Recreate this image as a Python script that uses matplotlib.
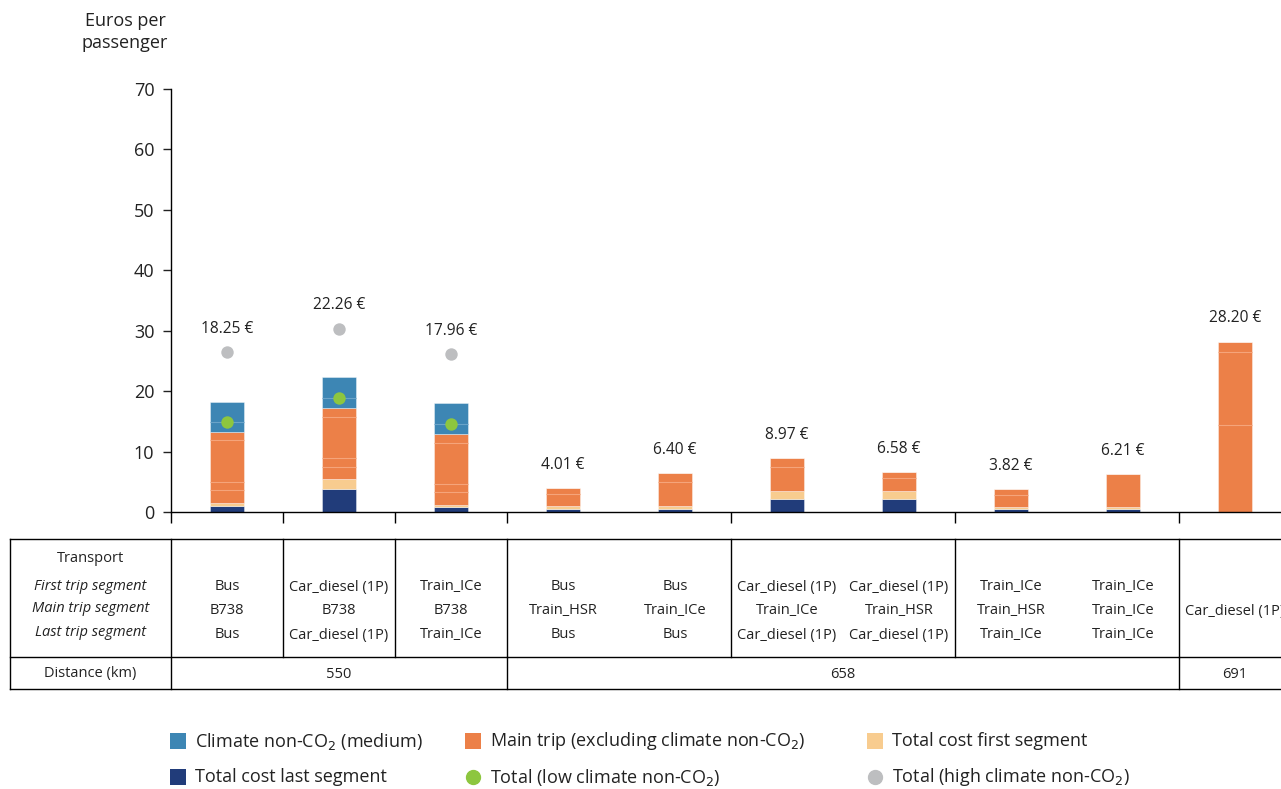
import matplotlib
matplotlib.use("Agg")
import matplotlib.pyplot as plt
import numpy as np
from matplotlib.lines import Line2D
from matplotlib.patches import Rectangle

plt.rcParams['font.family'] = ['Open Sans', 'DejaVu Sans']

# ---------------- data ----------------
first_seg = ["Bus", "Car_diesel (1P)", "Train_ICe", "Bus", "Bus",
             "Car_diesel (1P)", "Car_diesel (1P)", "Train_ICe", "Train_ICe", ""]
main_seg = ["B738", "B738", "B738", "Train_HSR", "Train_ICe",
            "Train_ICe", "Train_HSR", "Train_HSR", "Train_ICe", "Car_diesel (1P)"]
last_seg = ["Bus", "Car_diesel (1P)", "Train_ICe", "Bus", "Bus",
            "Car_diesel (1P)", "Car_diesel (1P)", "Train_ICe", "Train_ICe", ""]
distances = ["550", "658", "691"]
distance_spans = [(0, 2), (3, 8), (9, 9)]
group_spans = [(0, 0), (1, 1), (2, 2), (3, 4), (5, 6), (7, 8), (9, 9)]

last_cost = [1.0, 3.8, 0.83, 0.55, 0.55, 2.1, 2.1, 0.44, 0.44, 0.0]
first_cost = [0.5, 1.66, 0.33, 0.39, 0.39, 1.43, 1.43, 0.34, 0.34, 0.0]
# components of the main trip (excluding climate non-CO2)
main_parts = [
    [2.09, 1.33, 6.95, 1.43],
    [2.04, 1.40, 6.90, 1.47],
    [2.14, 1.30, 6.90, 1.47],
    [1.96, 1.11],
    [3.96, 1.50],
    [3.87, 1.57],
    [2.05, 1.00],
    [1.98, 1.06],
    [5.43],
    [14.35, 12.05, 1.80],
]
totals = [18.25, 22.26, 17.96, 4.01, 6.40, 8.97, 6.58, 3.82, 6.21, 28.20]
total_low = [14.85, 18.8, 14.57, None, None, None, None, None, None, None]
total_high = [26.4, 30.35, 26.1, None, None, None, None, None, None, None]

C_BLUE = "#3d86b4"
C_ORANGE = "#ec8048"
C_LIGHT = "#f8cc8f"
C_NAVY = "#213c7a"
C_GREEN = "#8dc63f"
C_GRAY = "#bdbec0"
C_LINE = "#f5a47a"
C_TEXT = "#222222"

W, H = 1281, 789
fig = plt.figure(figsize=(W / 100, H / 100), dpi=100)

x0_px, x_step = 171, 112
xmin = -0.5
xmax = xmin + (W - x0_px) / x_step
ax = fig.add_axes([x0_px / W, (H - 512) / H, 1 - x0_px / W, (512 - 89) / H])
ax.set_xlim(xmin, xmax)
ax.set_ylim(0, 70)

n = len(totals)
x = np.arange(n)
bw = 0.31
edge = dict(edgecolor=(1, 1, 1, 0.45), linewidth=0.6)

last_arr = np.array(last_cost)
first_arr = np.array(first_cost)
ax.bar(x, last_arr, bw, color=C_NAVY, zorder=2, **edge)
ax.bar(x, first_arr, bw, bottom=last_arr, color=C_LIGHT, zorder=2, **edge)
main_tot = np.array([sum(p) for p in main_parts])
base_main = last_arr + first_arr
ax.bar(x, main_tot, bw, bottom=base_main, color=C_ORANGE, zorder=2, **edge)
top_main = base_main + main_tot
climate = np.array(totals) - top_main
climate[climate < 0.05] = 0
ax.bar(x, climate, bw, bottom=top_main, color=C_BLUE, zorder=2, **edge)

# internal component boundaries
for i, parts in enumerate(main_parts):
    cum = base_main[i] + np.cumsum(parts)[:-1]
    for c in cum:
        ax.hlines(c, i - bw / 2, i + bw / 2, color=C_LINE, lw=0.8, zorder=3)
for i, v in enumerate(total_low):
    if v is not None:
        ax.hlines(v, i - bw / 2, i + bw / 2, color="#6aa3c8", lw=0.8, zorder=3)

# dots
for i in range(n):
    if total_low[i] is not None:
        ax.scatter(i, total_low[i], s=80, color=C_GREEN, zorder=4, linewidths=0)
    if total_high[i] is not None:
        ax.scatter(i, total_high[i], s=80, color=C_GRAY, zorder=4, linewidths=0)

# value labels
for i in range(n):
    ref = totals[i] if total_high[i] is None else total_high[i]
    ax.text(i, ref + 2.5, f"{totals[i]:.2f} €", ha="center", va="bottom",
            fontsize=11.2, color=C_TEXT)

# axes styling
for s in ["top", "right"]:
    ax.spines[s].set_visible(False)
ax.spines["left"].set_linewidth(1.0)
ax.spines["bottom"].set_linewidth(1.0)
ax.set_yticks(range(0, 71, 10))
ax.tick_params(axis="y", labelsize=13, length=6, width=1, pad=6, colors=C_TEXT)
bounds = [g[0] - 0.5 for g in group_spans] + [group_spans[-1][1] + 0.5]
ax.set_xticks([b for b in bounds if b <= xmax])
ax.set_xticklabels([])
ax.tick_params(axis="x", length=8, width=1)

fig.text(125 / W, 1 - 32 / H, "Euros per\npassenger", ha="center", va="center",
         fontsize=13, color=C_TEXT, linespacing=1.35)

# ---------------- table ----------------
tx0, tx1, ty0, ty1 = 10, W, 539, 689
tab = fig.add_axes([tx0 / W, (H - ty1) / H, (tx1 - tx0) / W, (ty1 - ty0) / H])
t_xmin = xmin + (tx0 - x0_px) / x_step
tab.set_xlim(t_xmin, xmax)
tab.set_ylim(ty1, ty0)
tab.axis("off")
lk = dict(color="black", lw=1.0, clip_on=False)
row_split = 657
tab.plot([t_xmin, xmax], [ty0, ty0], **lk)
tab.plot([t_xmin, xmax], [ty1, ty1], **lk)
tab.plot([t_xmin, xmax], [row_split, row_split], **lk)
tab.plot([t_xmin, t_xmin], [ty0, ty1], **lk)
tab.plot([-0.5, -0.5], [ty0, ty1], **lk)
for g in group_spans:
    b = g[1] + 0.5
    if b < xmax:
        tab.plot([b, b], [ty0, row_split], **lk)
for d in distance_spans:
    b = d[1] + 0.5
    if b < xmax:
        tab.plot([b, b], [row_split, ty1], **lk)

fs = 10.5
lab_x = (t_xmin - 0.5) / 2
tab.text(lab_x, 559, "Transport", ha="center", va="center", fontsize=fs, color=C_TEXT)
tab.text(lab_x, 586, "First trip segment", ha="center", va="center", fontsize=fs, style="italic", color=C_TEXT)
tab.text(lab_x, 609, "Main trip segment", ha="center", va="center", fontsize=fs, style="italic", color=C_TEXT)
tab.text(lab_x, 633, "Last trip segment", ha="center", va="center", fontsize=fs, style="italic", color=C_TEXT)
tab.text(lab_x, 674, "Distance (km)", ha="center", va="center", fontsize=fs, color=C_TEXT)
for i in range(n):
    tab.text(i, 587, first_seg[i], ha="center", va="center", fontsize=fs, color=C_TEXT)
    tab.text(i, 611, main_seg[i], ha="center", va="center", fontsize=fs, color=C_TEXT)
    tab.text(i, 635, last_seg[i], ha="center", va="center", fontsize=fs, color=C_TEXT)
for d, lbl in zip(distance_spans, distances):
    tab.text((d[0] + d[1]) / 2, 674, lbl, ha="center", va="center", fontsize=fs, color=C_TEXT)

# ---------------- legend (placed manually) ----------------
legend_items = [
    ("square", C_BLUE, "Climate non-CO$_2$ (medium)", 170, 741),
    ("square", C_ORANGE, "Main trip (excluding climate non-CO$_2$)", 465, 741),
    ("square", C_LIGHT, "Total cost first segment", 867, 741),
    ("square", C_NAVY, "Total cost last segment", 170, 777),
    ("circle", C_GREEN, "Total (low climate non-CO$_2$)", 465, 777),
    ("circle", C_GRAY, "Total (high climate non-CO$_2$)", 867, 777),
]
sq = 16
for kind, col, lbl, px, py in legend_items:
    if kind == "square":
        fig.add_artist(Rectangle((px / W, 1 - (py + sq / 2) / H), sq / W, sq / H,
                                 transform=fig.transFigure, color=col, lw=0))
    else:
        fig.add_artist(Line2D([(px + sq / 2) / W], [1 - py / H], marker="o", ls="",
                              color=col, markersize=10, transform=fig.transFigure))
    fig.text((px + sq + 9) / W, 1 - py / H, lbl, ha="left", va="center",
             fontsize=13, color=C_TEXT)

fig.savefig("out.png", dpi=100)
